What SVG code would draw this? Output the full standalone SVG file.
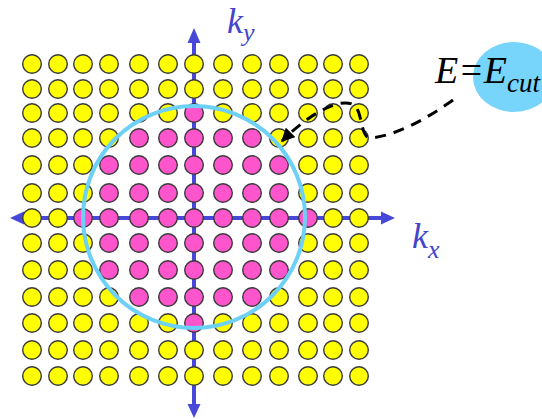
<svg xmlns="http://www.w3.org/2000/svg" width="542" height="419" viewBox="0 0 542 419">
<defs>
<style>
.y{fill:#ffff00;stroke:#3a3a3a;stroke-width:1.4}
.p{fill:#ff55cc;stroke:#3a3a3a;stroke-width:1.4}
.axis{stroke:#4848d8;stroke-width:4;fill:none}
.head{fill:#4848d8}
.lbl{font-family:"Liberation Serif","Times New Roman",serif;font-style:italic;fill:#4444cc}
.eq{font-family:"Liberation Serif","Times New Roman",serif;font-style:italic;fill:#000}
</style>
<marker id="bh" viewBox="0 0 10 10" refX="9" refY="5" markerWidth="4.5" markerHeight="4.5" markerUnits="strokeWidth" orient="auto">
<path d="M0,0 L10,5 L0,10 Z" fill="#000"/>
</marker>
</defs>
<rect width="542" height="419" fill="#fff"/>
<g id="connectors">
<line class="axis" x1="194" y1="405" x2="194" y2="42"/>
<line class="axis" x1="23" y1="218" x2="382" y2="218"/>
<polygon class="head" points="194,28 187.5,43 200.5,43"/>
<polygon class="head" points="194,418 187.5,404 200.5,404"/>
<polygon class="head" points="10,218 24,211.5 24,224.5"/>
<polygon class="head" points="395,218 381,211.5 381,224.5"/>
</g>
<g id="grid">
<g id="row0"><circle class="y" cx="32" cy="64" r="9.3"/><circle class="y" cx="58" cy="64" r="9.3"/><circle class="y" cx="83" cy="64" r="9.3"/><circle class="y" cx="109" cy="64" r="9.3"/><circle class="y" cx="139" cy="64" r="9.3"/><circle class="y" cx="168" cy="64" r="9.3"/><circle class="y" cx="194" cy="64" r="9.3"/><circle class="y" cx="223" cy="64" r="9.3"/><circle class="y" cx="252" cy="64" r="9.3"/><circle class="y" cx="279" cy="64" r="9.3"/><circle class="y" cx="308" cy="64" r="9.3"/><circle class="y" cx="333" cy="64" r="9.3"/><circle class="y" cx="359" cy="64" r="9.3"/></g>
<g id="row1"><circle class="y" cx="32" cy="89" r="9.3"/><circle class="y" cx="58" cy="89" r="9.3"/><circle class="y" cx="83" cy="89" r="9.3"/><circle class="y" cx="109" cy="89" r="9.3"/><circle class="y" cx="139" cy="89" r="9.3"/><circle class="y" cx="168" cy="89" r="9.3"/><circle class="y" cx="194" cy="89" r="9.3"/><circle class="y" cx="223" cy="89" r="9.3"/><circle class="y" cx="252" cy="89" r="9.3"/><circle class="y" cx="279" cy="89" r="9.3"/><circle class="y" cx="308" cy="89" r="9.3"/><circle class="y" cx="333" cy="89" r="9.3"/><circle class="y" cx="359" cy="89" r="9.3"/></g>
<g id="row2"><circle class="y" cx="32" cy="113" r="9.3"/><circle class="y" cx="58" cy="113" r="9.3"/><circle class="y" cx="83" cy="113" r="9.3"/><circle class="y" cx="109" cy="113" r="9.3"/><circle class="y" cx="139" cy="113" r="9.3"/><circle class="y" cx="168" cy="113" r="9.3"/><circle class="p" cx="194" cy="113" r="9.3"/><circle class="y" cx="223" cy="113" r="9.3"/><circle class="y" cx="252" cy="113" r="9.3"/><circle class="y" cx="279" cy="113" r="9.3"/><circle class="y" cx="308" cy="113" r="9.3"/><circle class="y" cx="333" cy="113" r="9.3"/><circle class="y" cx="359" cy="113" r="9.3"/></g>
<g id="row3"><circle class="y" cx="32" cy="138" r="9.3"/><circle class="y" cx="58" cy="138" r="9.3"/><circle class="y" cx="83" cy="138" r="9.3"/><circle class="y" cx="109" cy="138" r="9.3"/><circle class="p" cx="139" cy="138" r="9.3"/><circle class="p" cx="168" cy="138" r="9.3"/><circle class="p" cx="194" cy="138" r="9.3"/><circle class="p" cx="223" cy="138" r="9.3"/><circle class="p" cx="252" cy="138" r="9.3"/><circle class="y" cx="279" cy="138" r="9.3"/><circle class="y" cx="308" cy="138" r="9.3"/><circle class="y" cx="333" cy="138" r="9.3"/><circle class="y" cx="359" cy="138" r="9.3"/></g>
<g id="row4"><circle class="y" cx="32" cy="165" r="9.3"/><circle class="y" cx="58" cy="165" r="9.3"/><circle class="y" cx="83" cy="165" r="9.3"/><circle class="p" cx="109" cy="165" r="9.3"/><circle class="p" cx="139" cy="165" r="9.3"/><circle class="p" cx="168" cy="165" r="9.3"/><circle class="p" cx="194" cy="165" r="9.3"/><circle class="p" cx="223" cy="165" r="9.3"/><circle class="p" cx="252" cy="165" r="9.3"/><circle class="p" cx="279" cy="165" r="9.3"/><circle class="y" cx="308" cy="165" r="9.3"/><circle class="y" cx="333" cy="165" r="9.3"/><circle class="y" cx="359" cy="165" r="9.3"/></g>
<g id="row5"><circle class="y" cx="32" cy="193" r="9.3"/><circle class="y" cx="58" cy="193" r="9.3"/><circle class="y" cx="83" cy="193" r="9.3"/><circle class="p" cx="109" cy="193" r="9.3"/><circle class="p" cx="139" cy="193" r="9.3"/><circle class="p" cx="168" cy="193" r="9.3"/><circle class="p" cx="194" cy="193" r="9.3"/><circle class="p" cx="223" cy="193" r="9.3"/><circle class="p" cx="252" cy="193" r="9.3"/><circle class="p" cx="279" cy="193" r="9.3"/><circle class="y" cx="308" cy="193" r="9.3"/><circle class="y" cx="333" cy="193" r="9.3"/><circle class="y" cx="359" cy="193" r="9.3"/></g>
<g id="row6"><circle class="y" cx="32" cy="218" r="9.3"/><circle class="y" cx="58" cy="218" r="9.3"/><circle class="p" cx="83" cy="218" r="9.3"/><circle class="p" cx="109" cy="218" r="9.3"/><circle class="p" cx="139" cy="218" r="9.3"/><circle class="p" cx="168" cy="218" r="9.3"/><circle class="p" cx="194" cy="218" r="9.3"/><circle class="p" cx="223" cy="218" r="9.3"/><circle class="p" cx="252" cy="218" r="9.3"/><circle class="p" cx="279" cy="218" r="9.3"/><circle class="p" cx="308" cy="218" r="9.3"/><circle class="y" cx="333" cy="218" r="9.3"/><circle class="y" cx="359" cy="218" r="9.3"/></g>
<g id="row7"><circle class="y" cx="32" cy="243" r="9.3"/><circle class="y" cx="58" cy="243" r="9.3"/><circle class="y" cx="83" cy="243" r="9.3"/><circle class="p" cx="109" cy="243" r="9.3"/><circle class="p" cx="139" cy="243" r="9.3"/><circle class="p" cx="168" cy="243" r="9.3"/><circle class="p" cx="194" cy="243" r="9.3"/><circle class="p" cx="223" cy="243" r="9.3"/><circle class="p" cx="252" cy="243" r="9.3"/><circle class="p" cx="279" cy="243" r="9.3"/><circle class="y" cx="308" cy="243" r="9.3"/><circle class="y" cx="333" cy="243" r="9.3"/><circle class="y" cx="359" cy="243" r="9.3"/></g>
<g id="row8"><circle class="y" cx="32" cy="270" r="9.3"/><circle class="y" cx="58" cy="270" r="9.3"/><circle class="y" cx="83" cy="270" r="9.3"/><circle class="p" cx="109" cy="270" r="9.3"/><circle class="p" cx="139" cy="270" r="9.3"/><circle class="p" cx="168" cy="270" r="9.3"/><circle class="p" cx="194" cy="270" r="9.3"/><circle class="p" cx="223" cy="270" r="9.3"/><circle class="p" cx="252" cy="270" r="9.3"/><circle class="p" cx="279" cy="270" r="9.3"/><circle class="y" cx="308" cy="270" r="9.3"/><circle class="y" cx="333" cy="270" r="9.3"/><circle class="y" cx="359" cy="270" r="9.3"/></g>
<g id="row9"><circle class="y" cx="32" cy="297" r="9.3"/><circle class="y" cx="58" cy="297" r="9.3"/><circle class="y" cx="83" cy="297" r="9.3"/><circle class="y" cx="109" cy="297" r="9.3"/><circle class="p" cx="139" cy="297" r="9.3"/><circle class="p" cx="168" cy="297" r="9.3"/><circle class="p" cx="194" cy="297" r="9.3"/><circle class="p" cx="223" cy="297" r="9.3"/><circle class="p" cx="252" cy="297" r="9.3"/><circle class="y" cx="279" cy="297" r="9.3"/><circle class="y" cx="308" cy="297" r="9.3"/><circle class="y" cx="333" cy="297" r="9.3"/><circle class="y" cx="359" cy="297" r="9.3"/></g>
<g id="row10"><circle class="y" cx="32" cy="323" r="9.3"/><circle class="y" cx="58" cy="323" r="9.3"/><circle class="y" cx="83" cy="323" r="9.3"/><circle class="y" cx="109" cy="323" r="9.3"/><circle class="y" cx="139" cy="323" r="9.3"/><circle class="y" cx="168" cy="323" r="9.3"/><circle class="p" cx="194" cy="323" r="9.3"/><circle class="y" cx="223" cy="323" r="9.3"/><circle class="y" cx="252" cy="323" r="9.3"/><circle class="y" cx="279" cy="323" r="9.3"/><circle class="y" cx="308" cy="323" r="9.3"/><circle class="y" cx="333" cy="323" r="9.3"/><circle class="y" cx="359" cy="323" r="9.3"/></g>
<g id="row11"><circle class="y" cx="32" cy="350" r="9.3"/><circle class="y" cx="58" cy="350" r="9.3"/><circle class="y" cx="83" cy="350" r="9.3"/><circle class="y" cx="109" cy="350" r="9.3"/><circle class="y" cx="139" cy="350" r="9.3"/><circle class="y" cx="168" cy="350" r="9.3"/><circle class="y" cx="194" cy="350" r="9.3"/><circle class="y" cx="223" cy="350" r="9.3"/><circle class="y" cx="252" cy="350" r="9.3"/><circle class="y" cx="279" cy="350" r="9.3"/><circle class="y" cx="308" cy="350" r="9.3"/><circle class="y" cx="333" cy="350" r="9.3"/><circle class="y" cx="359" cy="350" r="9.3"/></g>
<g id="row12"><circle class="y" cx="32" cy="376" r="9.3"/><circle class="y" cx="58" cy="376" r="9.3"/><circle class="y" cx="83" cy="376" r="9.3"/><circle class="y" cx="109" cy="376" r="9.3"/><circle class="y" cx="139" cy="376" r="9.3"/><circle class="y" cx="168" cy="376" r="9.3"/><circle class="y" cx="194" cy="376" r="9.3"/><circle class="y" cx="223" cy="376" r="9.3"/><circle class="y" cx="252" cy="376" r="9.3"/><circle class="y" cx="279" cy="376" r="9.3"/><circle class="y" cx="308" cy="376" r="9.3"/><circle class="y" cx="333" cy="376" r="9.3"/><circle class="y" cx="359" cy="376" r="9.3"/></g>
</g>
<g id="cutoff-circle">
<circle cx="194" cy="217" r="111" fill="none" stroke="#6dd0f6" stroke-width="4"/>
</g>
<g id="dashed-arrow">
<path d="M453,100 C425,120 395,136 370,138 C360,137 363,112 354,105 C340,97 310,113 282,141" fill="none" stroke="#000" stroke-width="3" stroke-dasharray="11,8" marker-end="url(#bh)"/>
</g>
<g id="labels">
<text class="lbl" x="227" y="33" font-size="36">k<tspan font-size="26" dy="8">y</tspan></text>
<text class="lbl" x="412" y="248" font-size="36">k<tspan font-size="26" dy="10">x</tspan></text>
</g>
<g id="ecut">
<ellipse cx="514" cy="77" rx="41" ry="35" fill="#77d4fb"/>
<text class="eq" x="435" y="83" font-size="38">E=E<tspan font-size="27" dy="9">cut</tspan></text>
</g>
</svg>
